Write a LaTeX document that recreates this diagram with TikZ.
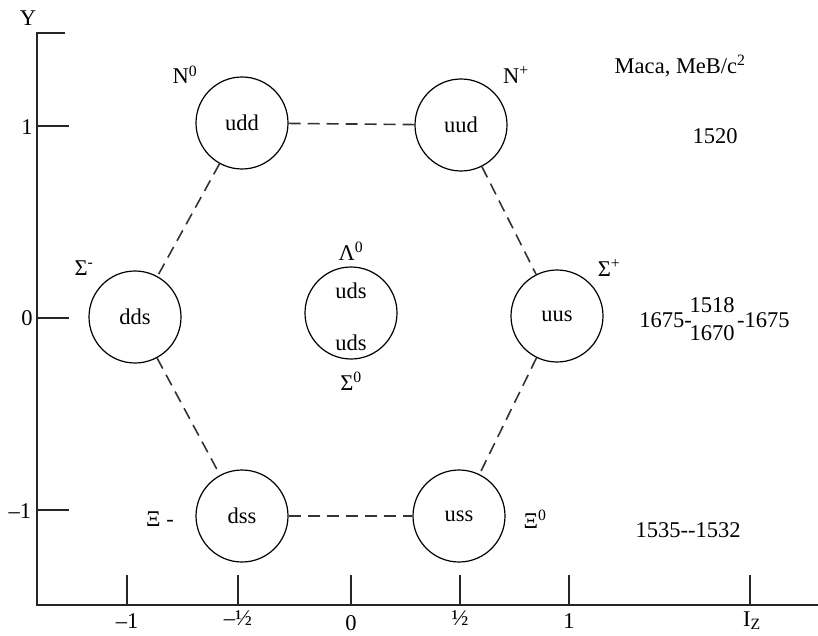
\documentclass[tikz,border=0pt]{standalone}
\usepackage{fontspec}
\setmainfont{Liberation Serif}
\begin{document}
\begin{tikzpicture}[x=1pt,y=-1pt,
  font=\fontsize{22.5}{26}\selectfont,
  particle/.style={circle,draw,line width=1.2pt,minimum size=92pt,inner sep=0pt},
  link/.style={dashed,dash pattern=on 12pt off 7pt,line width=1.6pt,black!80},
  axisline/.style={line width=1.4pt,black!85},
  lbl/.style={inner sep=0pt}]
\useasboundingbox (0,0) rectangle (818,636);
% axes
\draw[axisline] (65,33) -- (37,33) -- (37,605) -- (818,605);
\foreach \yy in {126,318,510} \draw[axisline] (37,\yy) -- (69,\yy);
\foreach \xx in {127,238,351,460,569,750} \draw[axisline] (\xx,575) -- (\xx,605);
% axis labels
\node[lbl] (ylab) at (28,18) {Y};
\node[lbl] (y1) at (27,127) {1};
\node[lbl] (y0) at (27,318) {0};
\node[lbl] (ym1) at (20,511) {–1};
\node[lbl] (xm1) at (127,621) {–1};
\node[lbl] (xmh) at (238,618) {–½};
\node[lbl] (x0) at (351,623) {0};
\node[lbl] (xh) at (460,618) {½};
\node[lbl] (x1) at (569,621) {1};
\node[lbl] (xlab) at (752,621) {I\textsubscript{Z}};
% particles
\node[particle] (udd) at (242,123) {udd};
\node[particle] (uud) at (461,125) {uud};
\node[particle] (dds) at (135,317) {dds};
\node[particle] (uus) at (557,316) {uus};
\node[particle] (dss) at (242,516) {dss};
\node[particle] (uss) at (459,516) {uss};
\node[particle] (lam) at (351,313) {};
\node[lbl] (uds1) at (351,291) {uds};
\node[lbl] (uds2) at (351,343) {uds};
% connectors
\draw[link] (udd) -- (uud);
\draw[link] (udd) -- (dds);
\draw[link] (uud) -- (uus);
\draw[link] (dds) -- (dss);
\draw[link] (uus) -- (uss);
\draw[link] (dss) -- (uss);
% particle names
\node[lbl] (n0) at (185,75) {N\textsuperscript{0}};
\node[lbl] (np) at (516,75) {N\textsuperscript{+}};
\node[lbl] (sm) at (84,268) {Σ\textsuperscript{-}};
\node[lbl] (sp) at (609,268) {Σ\textsuperscript{+}};
\node[lbl] (l0) at (351,251) {Λ\textsuperscript{0}};
\node[lbl] (s0) at (351,381) {Σ\textsuperscript{0}};
\node[lbl] (xim) at (160,519) {Ξ -};
\node[lbl] (xi0) at (535,519) {Ξ\textsuperscript{0}};
% masses
\node[lbl] (mass) at (680,66) {Маса, МеВ/с\textsuperscript{2}};
\node[lbl] (m1) at (715,136) {1520};
\node[lbl,anchor=east] (m2a) at (692,320) {1675-};
\node[lbl] (m2b) at (712,305) {1518};
\node[lbl] (m2c) at (712,333) {1670};
\node[lbl,anchor=west] (m2d) at (737,320) {-1675};
\node[lbl] (m3) at (688,530) {1535-{}-1532};
\end{tikzpicture}
\end{document}
